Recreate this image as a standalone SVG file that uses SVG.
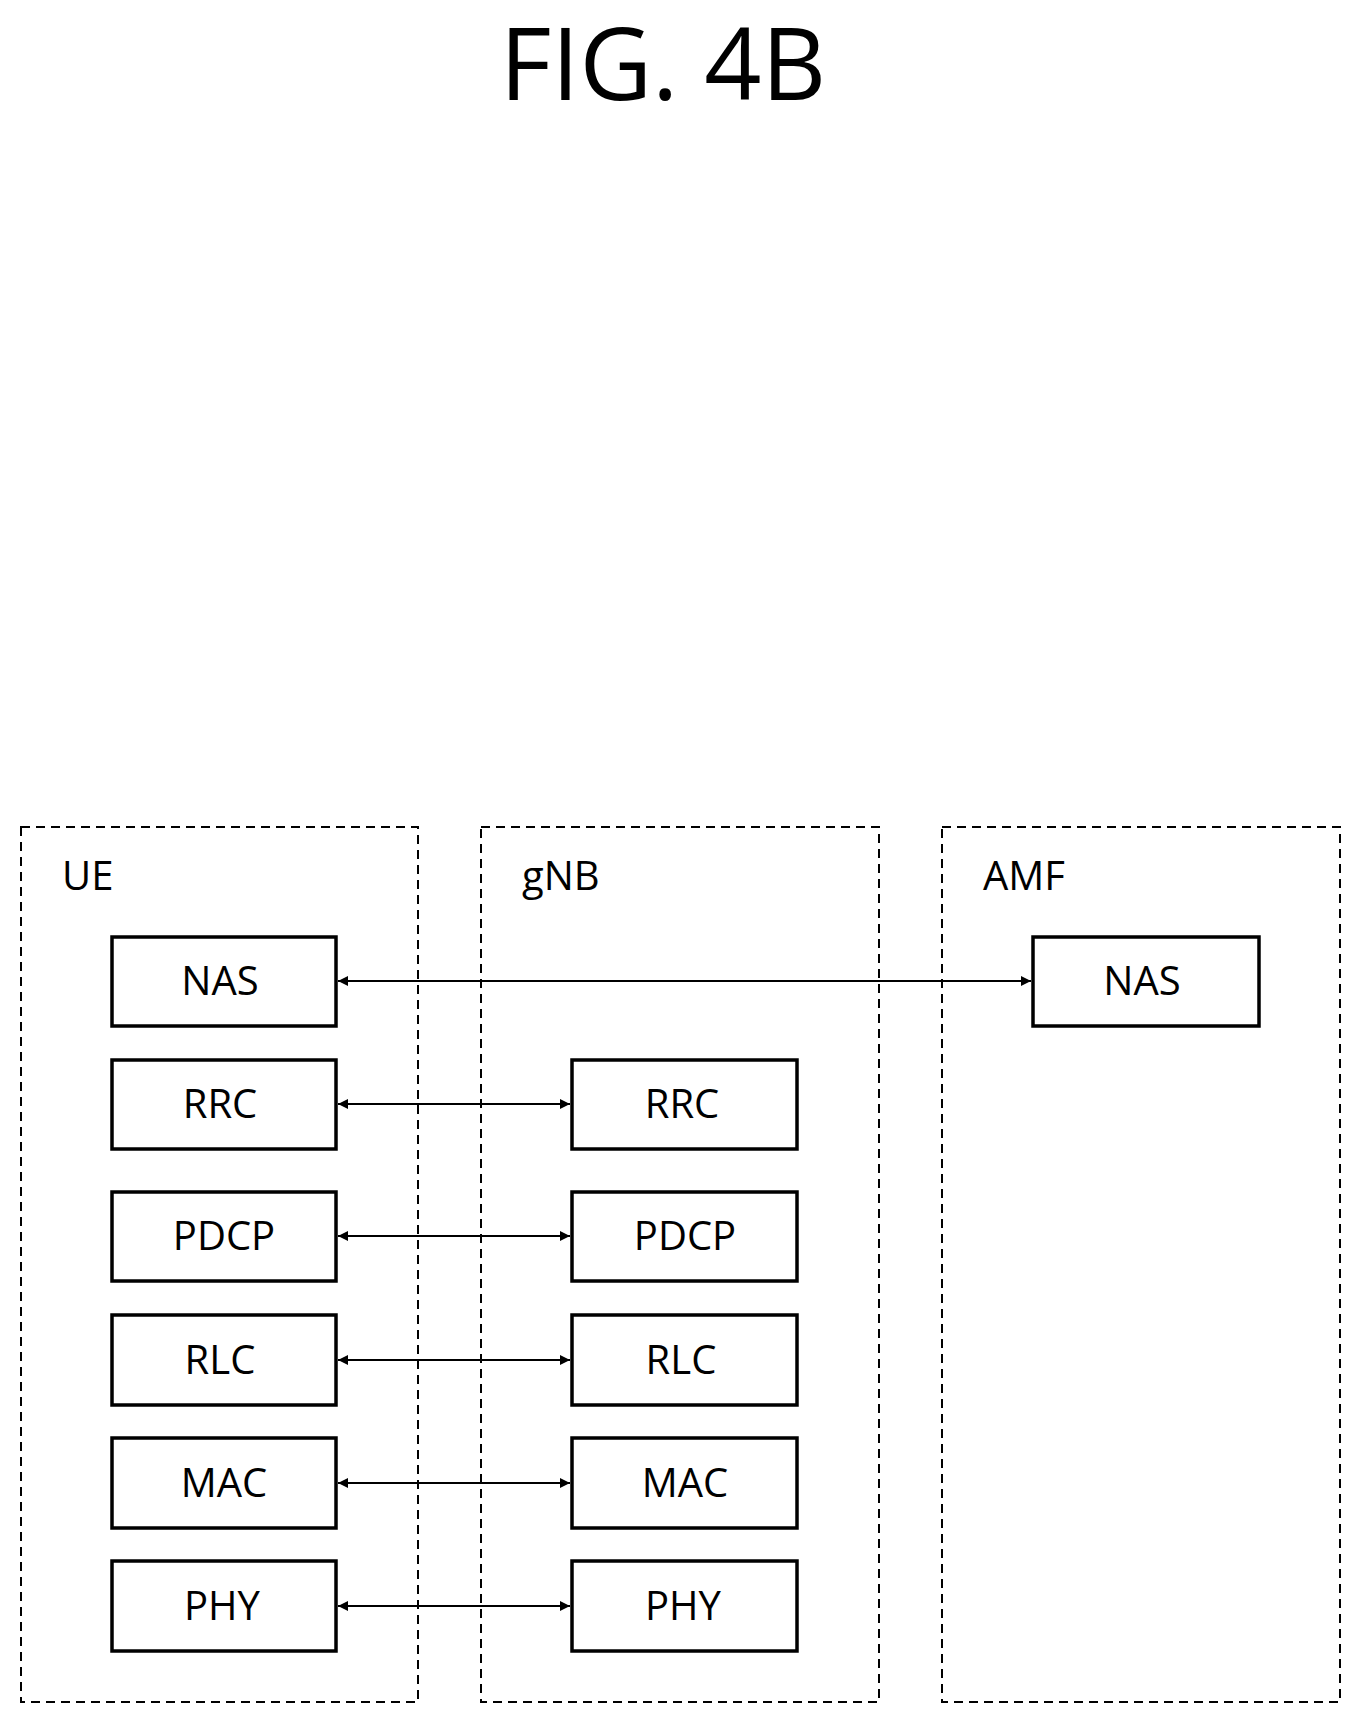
<svg xmlns="http://www.w3.org/2000/svg" width="1363" height="1726" viewBox="0 0 1363 1726">
<style>
.c{fill:none;stroke:#000;stroke-width:2;stroke-dasharray:9,6}
.b{fill:#fff;stroke:#000;stroke-width:3.5}
.t{font-family:"Open Sans","Noto Sans",sans-serif;font-size:40px;fill:#000}
.m{text-anchor:middle}
.l{stroke:#000;stroke-width:2;marker-start:url(#a);marker-end:url(#a)}
</style>
<defs><marker id="a" viewBox="0 0 10 10" refX="10" refY="5" markerWidth="26" markerHeight="10" markerUnits="userSpaceOnUse" orient="auto-start-reverse"><path d="M0,0L10,5L0,10z"/></marker></defs>
<rect width="1363" height="1726" fill="#fff"/>
<text x="663" y="100" class="m" style="font-family:'Open Sans','Noto Sans',sans-serif;font-size:100px">FIG. 4B</text>
<g id="ue"><rect class="c" x="21" y="827" width="397" height="875"/><text class="t" x="62" y="890">UE</text></g>
<g id="gnb"><rect class="c" x="481" y="827" width="398" height="875"/><text class="t" x="522" y="890">gNB</text></g>
<g id="amf"><rect class="c" x="942" y="827" width="398" height="875"/><text class="t" x="983" y="890">AMF</text></g>
<g id="ue-nas"><rect class="b" x="112" y="937" width="224" height="89"/><text class="t m" x="220" y="995">NAS</text></g>
<g id="ue-rrc"><rect class="b" x="112" y="1060" width="224" height="89"/><text class="t m" x="220" y="1118">RRC</text></g>
<g id="ue-pdcp"><rect class="b" x="112" y="1192" width="224" height="89"/><text class="t m" x="224" y="1250">PDCP</text></g>
<g id="ue-rlc"><rect class="b" x="112" y="1315" width="224" height="90"/><text class="t m" x="220" y="1374">RLC</text></g>
<g id="ue-mac"><rect class="b" x="112" y="1438" width="224" height="90"/><text class="t m" x="224" y="1497">MAC</text></g>
<g id="ue-phy"><rect class="b" x="112" y="1561" width="224" height="90"/><text class="t m" x="222" y="1620">PHY</text></g>
<g id="gnb-rrc"><rect class="b" x="572" y="1060" width="225" height="89"/><text class="t m" x="682" y="1118">RRC</text></g>
<g id="gnb-pdcp"><rect class="b" x="572" y="1192" width="225" height="89"/><text class="t m" x="685" y="1250">PDCP</text></g>
<g id="gnb-rlc"><rect class="b" x="572" y="1315" width="225" height="90"/><text class="t m" x="681" y="1374">RLC</text></g>
<g id="gnb-mac"><rect class="b" x="572" y="1438" width="225" height="90"/><text class="t m" x="685" y="1497">MAC</text></g>
<g id="gnb-phy"><rect class="b" x="572" y="1561" width="225" height="90"/><text class="t m" x="683" y="1620">PHY</text></g>
<g id="amf-nas"><rect class="b" x="1033" y="937" width="226" height="89"/><text class="t m" x="1142" y="995">NAS</text></g>
<g id="connectors">
<line class="l" x1="338" y1="981" x2="1031" y2="981"/>
<line class="l" x1="338" y1="1104" x2="570" y2="1104"/>
<line class="l" x1="338" y1="1236" x2="570" y2="1236"/>
<line class="l" x1="338" y1="1360" x2="570" y2="1360"/>
<line class="l" x1="338" y1="1483" x2="570" y2="1483"/>
<line class="l" x1="338" y1="1606" x2="570" y2="1606"/>
</g>
</svg>
